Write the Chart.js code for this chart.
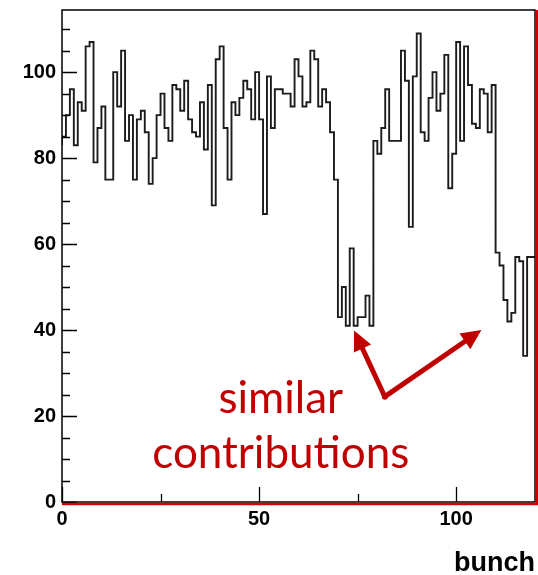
<!DOCTYPE html>
<html><head><meta charset="utf-8">
<script src="https://cdn.jsdelivr.net/npm/chart.js@4.4.1/dist/chart.umd.min.js"></script>
<style>html,body{margin:0;padding:0;background:#fff}#wrap{width:538px;height:575px;position:relative}</style>
</head><body><div id="wrap"><canvas id="c" width="538" height="575"></canvas></div>
<script>
// ---- data (one value per bunch, bins 0..119) ----
const bunchValues = [
  83, 85, 90, 96, 83, 93, 91,106,107, 79,
  87, 92, 75, 75,100, 92,105, 84, 90, 75,
  89, 91, 86, 74, 80, 90, 95, 87, 84, 97,
  96, 91, 98, 89, 86, 85, 93, 82, 97, 69,
 103,106, 87, 75, 93, 90, 94, 98, 96, 89,
 100, 89, 67, 99, 87, 96, 96, 95, 95, 92,
 103, 99, 92, 93,105,103, 92, 96, 93, 86,
  75, 43, 50, 41, 59, 41, 43, 43, 48, 41,
  84, 81, 87, 96, 84, 84, 84,105, 98, 64,
  99,109, 86, 84, 94,100, 91, 95,104, 73,
  81,107, 84,106, 97, 88, 87, 96, 95, 86,
  97, 58, 55, 47, 42, 44, 57, 56, 34, 57
];
const xMajorTicks = [0, 50, 100];
const xMinorTicks = [25, 75];
const yMajorTicks = [0, 20, 40, 60, 80, 100];
const yMinorTicks = [5, 10, 15, 25, 30, 35, 45, 50, 55, 65, 70, 75, 85, 90, 95, 105, 110];
const xTitle = 'bunch';
const noteLines = ['similar', 'contributions'];

// step outline points at bin edges
const points = bunchValues.map((v, i) => ({x: i, y: v}));
points.push({x: bunchValues.length, y: bunchValues[bunchValues.length - 1]});

const RED = '#C00000';

const framePlugin = {
  id: 'frame',
  afterDatasetsDraw(chart, args, opts) {
    const {ctx, chartArea: a, scales: {x, y}} = chart;
    ctx.save();
    // inside ticks
    ctx.strokeStyle = '#000';
    ctx.lineWidth = 1.3;
    ctx.beginPath();
    yMajorTicks.forEach(v => { const p = Math.round(y.getPixelForValue(v)) + 0.5; ctx.moveTo(a.left, p); ctx.lineTo(a.left + 15, p); });
    yMinorTicks.forEach(v => { const p = Math.round(y.getPixelForValue(v)) + 0.5; ctx.moveTo(a.left, p); ctx.lineTo(a.left + 8, p); });
    xMajorTicks.forEach(v => { const p = Math.round(x.getPixelForValue(v)) + 0.5; ctx.moveTo(p, a.bottom); ctx.lineTo(p, a.bottom - 15); });
    xMinorTicks.forEach(v => { const p = Math.round(x.getPixelForValue(v)) + 0.5; ctx.moveTo(p, a.bottom); ctx.lineTo(p, a.bottom - 8); });
    ctx.stroke();
    // frame
    ctx.lineWidth = 1.5;
    ctx.strokeRect(a.left, a.top, a.right - a.left, a.bottom - a.top);
    // red overlay lines
    ctx.strokeStyle = '#d00000';
    ctx.lineWidth = 2.5;
    ctx.beginPath();
    ctx.moveTo(a.left, a.bottom + 2);
    ctx.lineTo(a.right + 3, a.bottom + 2);
    ctx.moveTo(a.right + 2, a.top);
    ctx.lineTo(a.right + 2, a.bottom + 2);
    ctx.stroke();

    // annotation arrows
    const base = {x: x.getPixelForValue(opts.base[0]), y: y.getPixelForValue(opts.base[1])};
    ctx.strokeStyle = RED; ctx.fillStyle = RED; ctx.lineWidth = 5; ctx.lineCap = 'butt';
    opts.tips.forEach(t => {
      const tx = x.getPixelForValue(t[0]), ty = y.getPixelForValue(t[1]);
      const ang = Math.atan2(ty - base.y, tx - base.x);
      const hl = 20, hw = 9.5;
      const sx = tx - Math.cos(ang) * (hl - 2), sy = ty - Math.sin(ang) * (hl - 2);
      ctx.beginPath(); ctx.moveTo(base.x, base.y); ctx.lineTo(sx, sy); ctx.stroke();
      const bx = tx - Math.cos(ang) * hl, by = ty - Math.sin(ang) * hl;
      ctx.beginPath();
      ctx.moveTo(tx, ty);
      ctx.lineTo(bx + Math.sin(ang) * hw, by - Math.cos(ang) * hw);
      ctx.lineTo(bx - Math.sin(ang) * hw, by + Math.cos(ang) * hw);
      ctx.closePath(); ctx.fill();
    });
    ctx.beginPath(); ctx.arc(base.x, base.y, 3, 0, Math.PI * 2); ctx.fill();

    // annotation text
    ctx.fillStyle = RED;
    ctx.textAlign = 'center';
    ctx.textBaseline = 'alphabetic';
    let size = 40;
    ctx.font = size + 'px Lato';
    const w = ctx.measureText(noteLines[1]).width;
    size = size * opts.textWidth / w;
    ctx.font = size.toFixed(1) + 'px Lato';
    noteLines.forEach((t, i) => {
      ctx.fillText(t, x.getPixelForValue(opts.textX), y.getPixelForValue(opts.textY[i]));
    });
    ctx.restore();
  }
};

const tickFont = {family: 'Liberation Sans', weight: 'bold', size: 20};

new Chart(document.getElementById('c'), {
  type: 'line',
  data: {datasets: [{
    data: points,
    stepped: 'after',
    borderColor: '#1c1c1c',
    borderWidth: 1.9,
    pointRadius: 0,
    fill: false
  }]},
  options: {
    responsive: false,
    animation: false,
    layout: {padding: {top: 10, right: 3, left: 0, bottom: 0}},
    plugins: {
      legend: {display: false},
      tooltip: {enabled: false},
      frame: {base: [81.9, 24.5], tips: [[74.1, 39.9], [106.4, 40.0]], textX: 55.5, textY: [20.7, 7.9], textWidth: 257}
    },
    scales: {
      x: {
        type: 'linear', min: 0, max: 120,
        afterBuildTicks: s => { s.ticks = xMajorTicks.map(v => ({value: v})); },
        afterFit: s => { s.height = 73; s.paddingLeft = 0; s.paddingRight = 0; },
        grid: {display: false, drawTicks: false},
        border: {display: false},
        ticks: {font: tickFont, color: '#000', padding: 5, maxRotation: 0, autoSkip: false},
        title: {display: true, text: xTitle, align: 'end', color: '#000',
                font: {family: 'Liberation Sans', weight: 'bold', size: 27, lineHeight: '22px'},
                padding: {top: 0, bottom: 0}}
      },
      y: {
        type: 'linear', min: 0, max: 114.45,
        afterBuildTicks: s => { s.ticks = yMajorTicks.map(v => ({value: v})); },
        afterFit: s => { s.width = 62; s.paddingTop = 0; s.paddingBottom = 0; },
        grid: {display: false, drawTicks: false},
        border: {display: false},
        ticks: {font: tickFont, color: '#000', padding: 6, autoSkip: false}
      }
    }
  },
  plugins: [framePlugin]
});
</script>
</body></html>
